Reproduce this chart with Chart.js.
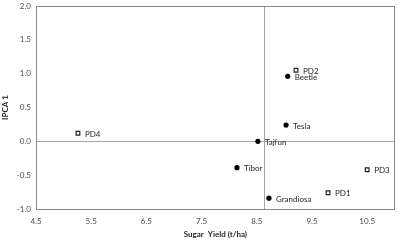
<!DOCTYPE html>
<html>
<head>
<meta charset="utf-8">
<script src="https://cdn.jsdelivr.net/npm/chart.js@4/dist/chart.umd.min.js"></script>
<style>
  html, body { margin: 0; padding: 0; background: #fff; }
  #wrap { width: 400px; height: 241px; }
</style>
</head>
<body>
<div id="wrap"><canvas id="c"></canvas></div>
<script>
// genotypes (filled circles)
var genoNames = ["Beetle", "Tesla", "Tajfun", "Tibor", "Grandiosa"];
var genoYield = [9.06, 9.03, 8.52, 8.14, 8.72];
var genoIpca = [0.96, 0.24, 0.0, -0.39, -0.84];

// environments (open squares)
var envNames = ["PD1", "PD2", "PD3", "PD4"];
var envYield = [9.79, 9.21, 10.5, 5.26];
var envIpca = [-0.76, 1.05, -0.42, 0.12];

// reference lines: grand mean of yield and IPCA = 0
var meanYield = 8.63;
var ipcaZero = 0;

var xTicks = [4.5, 5.5, 6.5, 7.5, 8.5, 9.5, 10.5];

function points(xs, ys) {
  return xs.map(function (x, i) { return { x: x, y: ys[i] }; });
}

var tickFont = { family: "Lato, 'Open Sans', sans-serif", size: 8 };
var titleFont = { family: "Lato, 'Open Sans', sans-serif", size: 8, weight: "bold" };

var decorPlugin = {
  id: "decor",
  beforeDatasetsDraw: function (chart) {
    var ctx = chart.ctx, a = chart.chartArea;
    var xs = chart.scales.x, ys = chart.scales.y;
    ctx.save();
    ctx.strokeStyle = "#a6a6a6";
    ctx.lineWidth = 1;
    var mx = Math.round(xs.getPixelForValue(meanYield)) + 0.5;
    var zy = Math.round(ys.getPixelForValue(ipcaZero)) + 0.5;
    ctx.beginPath();
    ctx.moveTo(mx, a.top); ctx.lineTo(mx, a.bottom);
    ctx.moveTo(a.left, zy); ctx.lineTo(a.right, zy);
    ctx.stroke();
    ctx.strokeStyle = "#8c8c8c";
    ctx.strokeRect(Math.round(a.left) + 0.5, Math.round(a.top) + 0.5,
      Math.round(a.right - a.left) - 1, Math.round(a.bottom - a.top));
    ctx.restore();
  },
  afterDatasetsDraw: function (chart) {
    var ctx = chart.ctx;
    ctx.save();
    ctx.font = "8px Lato, 'Open Sans', sans-serif";
    ctx.fillStyle = "#262626";
    ctx.textBaseline = "middle";
    chart.data.datasets.forEach(function (ds, di) {
      var meta = chart.getDatasetMeta(di);
      meta.data.forEach(function (el, i) {
        ctx.fillText(ds.names[i], el.x + 7, el.y + 1);
      });
    });
    ctx.restore();
  }
};

new Chart(document.getElementById("c"), {
  type: "scatter",
  data: {
    datasets: [
      {
        label: "Genotypes",
        names: genoNames,
        data: points(genoYield, genoIpca),
        pointStyle: "circle",
        pointRadius: 2.6,
        backgroundColor: "#000",
        borderColor: "#000",
        borderWidth: 0
      },
      {
        label: "Environments",
        names: envNames,
        data: points(envYield, envIpca),
        pointStyle: "rect",
        pointRadius: 2.6,
        backgroundColor: "#fff",
        borderColor: "#222",
        borderWidth: 1.2
      }
    ]
  },
  options: {
    responsive: true,
    maintainAspectRatio: false,
    animation: false,
    layout: { padding: { top: 6, right: 4, left: 0, bottom: 0 } },
    plugins: { legend: { display: false }, tooltip: { enabled: false } },
    scales: {
      x: {
        type: "linear",
        min: 4.5,
        max: 11,
        afterBuildTicks: function (scale) {
          scale.ticks = xTicks.map(function (v) { return { value: v }; });
        },
        afterFit: function (scale) {
          scale.height = 32;
          scale.paddingLeft = 0;
          scale.paddingRight = 0;
        },
        grid: { display: false, drawTicks: false },
        border: { display: false },
        ticks: {
          color: "#4d4d4d",
          font: tickFont,
          padding: 8,
          maxRotation: 0,
          callback: function (v) { return v.toFixed(1); }
        },
        title: {
          display: true,
          text: "Sugar  Yield (t/ha)",
          color: "#262626",
          font: titleFont,
          padding: { top: 0, bottom: 2 }
        }
      },
      y: {
        type: "linear",
        min: -1,
        max: 2,
        afterFit: function (scale) {
          scale.width = 36;
          scale.paddingTop = 0;
          scale.paddingBottom = 0;
        },
        grid: { display: false, drawTicks: false },
        border: { display: false },
        ticks: {
          stepSize: 0.5,
          color: "#4d4d4d",
          font: tickFont,
          padding: 5,
          callback: function (v) { return v.toFixed(1); }
        },
        title: {
          display: true,
          text: "IPCA 1",
          color: "#262626",
          font: titleFont,
          padding: { top: 1, bottom: 4 }
        }
      }
    }
  },
  plugins: [decorPlugin]
});
</script>
</body>
</html>
